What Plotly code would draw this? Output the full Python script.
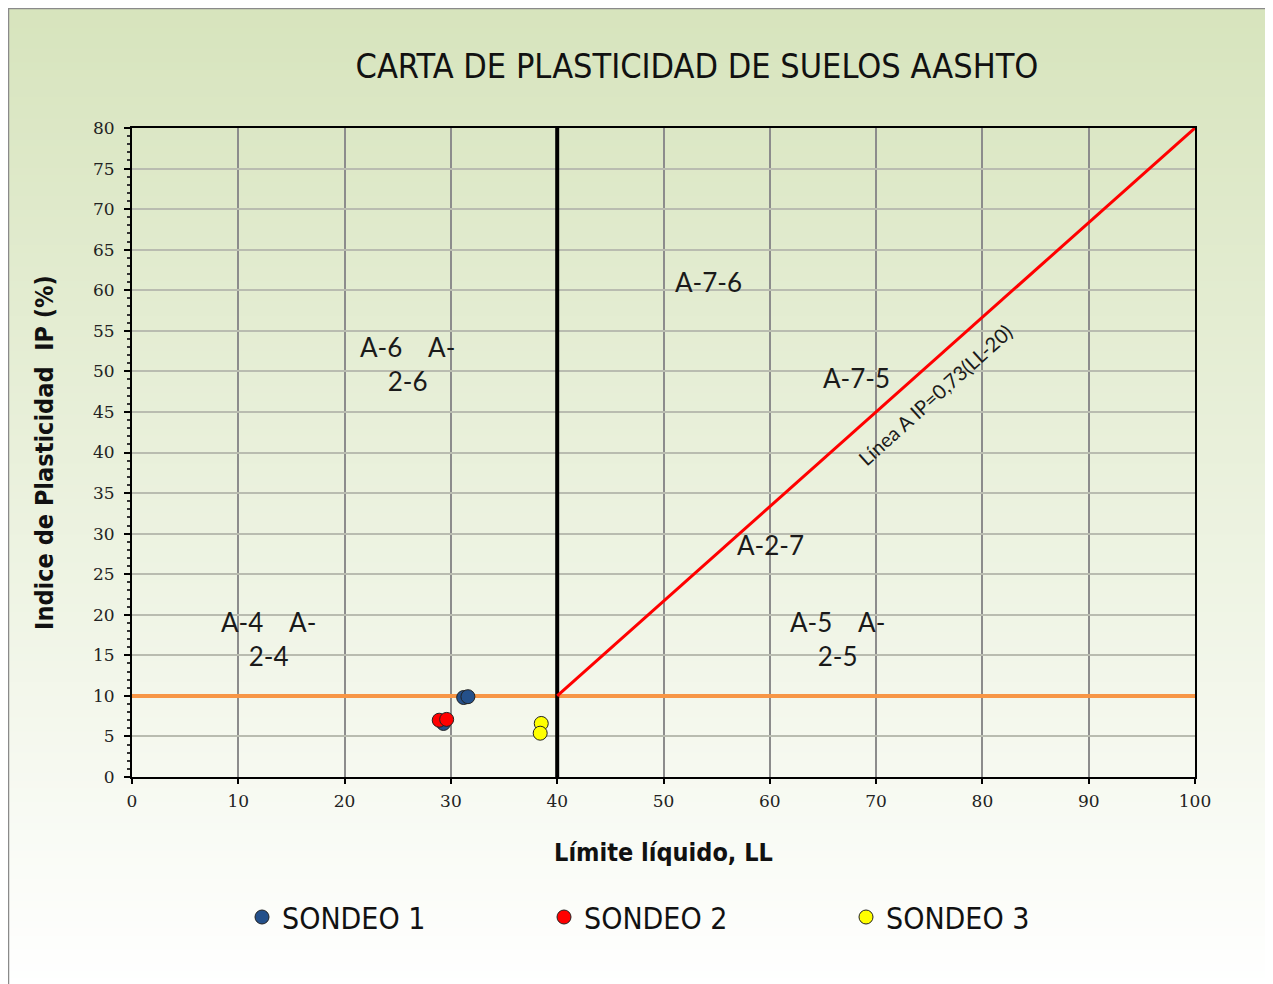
import plotly.graph_objects as go

# --- Data
sondeo1_ll = [31.2, 31.6, 29.3]
sondeo1_ip = [9.8, 9.9, 6.6]
sondeo2_ll = [28.9, 29.6]
sondeo2_ip = [7.0, 7.1]
sondeo3_ll = [38.5, 38.4]
sondeo3_ip = [6.6, 5.4]

# limit lines of the chart
ip10_x = [0, 100]
ip10_y = [10, 10]
ll40_x = [40, 40]
ll40_y = [0, 80]
linea_a_x = [40, 100]
linea_a_y = [10, 80]

# zone labels
zone_text = ['A-7-6', 'A-6&nbsp;&nbsp;&nbsp;&nbsp;A-<br>2-6', 'A-4&nbsp;&nbsp;&nbsp;&nbsp;A-<br>2-4',
             'A-7-5', 'A-2-7', 'A-5&nbsp;&nbsp;&nbsp;&nbsp;A-<br>2-5']
zone_x = [54.2, 25.9, 12.8, 68.2, 60.1, 66.4]
zone_y = [61.0, 50.9, 17.0, 49.2, 28.6, 17.0]

x_ticks = list(range(0, 101, 10))
y_ticks = list(range(0, 81, 5))

# --- Layout geometry (pixels, figure coords; page adds an 8px body margin)
W, H = 1273, 984
ml, mr, mt, mb = 124, 86, 120, 215
pw, ph = W - ml - mr, H - mt - mb

narrow = 'Liberation Sans Narrow, DejaVu Sans Condensed, sans-serif'
serif = 'DejaVu Serif, Liberation Serif, serif'
label_font = 'Lato, Open Sans, sans-serif'

fig = go.Figure()

fig.add_trace(go.Scatter(x=ip10_x, y=ip10_y, mode='lines', line=dict(color='#F79646', width=4),
                         showlegend=False, hoverinfo='skip'))
fig.add_trace(go.Scatter(x=ll40_x, y=ll40_y, mode='lines', line=dict(color='#000000', width=4),
                         showlegend=False, hoverinfo='skip'))
fig.add_trace(go.Scatter(x=linea_a_x, y=linea_a_y, mode='lines', line=dict(color='#FF0000', width=3),
                         showlegend=False, hoverinfo='skip'))

for name, xs, ys, col in [('SONDEO 1', sondeo1_ll, sondeo1_ip, '#24508A'),
                          ('SONDEO 2', sondeo2_ll, sondeo2_ip, '#FF0000'),
                          ('SONDEO 3', sondeo3_ll, sondeo3_ip, '#FFFF00')]:
    fig.add_trace(go.Scatter(x=xs, y=ys, mode='markers', name=name,
                             marker=dict(size=14, color=col, line=dict(color='#222222', width=1))))

# background gradient (green at top to white at bottom), drawn as thin bands
def px2paper_x(px):
    return (px - ml) / pw

def px2paper_y(py):
    return (H - mb - py) / ph

top_c = (215, 228, 189)
bot_c = (255, 255, 255)
n_bands = 140
y0_px, y1_px = -2, H
shapes = []
for i in range(n_bands):
    t = i / (n_bands - 1)
    c = tuple(round(top_c[k] + (bot_c[k] - top_c[k]) * t) for k in range(3))
    a = y0_px + (y1_px - y0_px) * i / n_bands
    b = y0_px + (y1_px - y0_px) * (i + 1) / n_bands + 0.8
    shapes.append(dict(type='rect', xref='paper', yref='paper', layer='below',
                       x0=px2paper_x(-2), x1=px2paper_x(W + 2),
                       y0=px2paper_y(b), y1=px2paper_y(a),
                       line=dict(width=0), fillcolor='rgb(%d,%d,%d)' % c))
# thin outer frame
shapes.append(dict(type='rect', xref='paper', yref='paper', layer='below',
                   x0=px2paper_x(0.5), x1=px2paper_x(W + 5), y0=px2paper_y(H + 5), y1=px2paper_y(0.5),
                   line=dict(color='#8a8a8a', width=1.5), fillcolor='rgba(0,0,0,0)'))

annotations = []
for t, x, y in zip(zone_text, zone_x, zone_y):
    annotations.append(dict(x=x, y=y, xref='x', yref='y', text=t, showarrow=False,
                            font=dict(family=label_font, size=26, color='#1a1a1a'), align='center'))
annotations.append(dict(x=75.5, y=47.1, xref='x', yref='y', text='Línea A IP=0,73(LL-20)',
                        showarrow=False, textangle=-42,
                        font=dict(family=label_font, size=20, color='#1a1a1a')))

fig.update_layout(
    width=W, height=H,
    margin=dict(l=ml, r=mr, t=mt, b=mb),
    paper_bgcolor='white',
    plot_bgcolor='rgba(0,0,0,0)',
    shapes=shapes,
    annotations=annotations,
    title=dict(text='CARTA DE PLASTICIDAD DE SUELOS AASHTO', x=689 / W, y=1 - 58 / H,
               xanchor='center', yanchor='middle',
               font=dict(family=narrow, size=34, color='#111111')),
    xaxis=dict(range=[0, 100], tickvals=x_ticks, showgrid=True, gridcolor='#8c8c8c', gridwidth=1.5,
               zeroline=False, showline=True, linecolor='black', linewidth=2, mirror=True,
               ticks='outside', ticklen=5, tickcolor='black', tickwidth=1.5,
               ticklabelstandoff=3,
               tickfont=dict(family=serif, size=17, color='#222222'),
               title=dict(text='<b>Límite líquido, LL</b>', standoff=33,
                          font=dict(family=narrow, size=25, color='#111111'))),
    yaxis=dict(range=[0, 80], tickvals=y_ticks, showgrid=True, gridcolor='#b9bcb0', gridwidth=1.5,
               zeroline=False, showline=True, linecolor='black', linewidth=2, mirror=True,
               ticks='outside', ticklen=6, tickcolor='black', tickwidth=1.5,
               ticklabelstandoff=6,
               minor=dict(dtick=1, ticks='outside', ticklen=3, tickcolor='#333333', showgrid=False),
               tickfont=dict(family=serif, size=17, color='#222222'),
               title=dict(text='<b>Indice de Plasticidad  IP (%)</b>', standoff=32,
                          font=dict(family=narrow, size=25, color='#111111'))),
    legend=dict(orientation='h', x=px2paper_x(234), xanchor='left', y=px2paper_y(909), yanchor='middle',
                entrywidth=257, entrywidthmode='pixels', bgcolor='rgba(0,0,0,0)',
                font=dict(family=narrow, size=30, color='#111111')),
)

fig.write_html('out.html')
